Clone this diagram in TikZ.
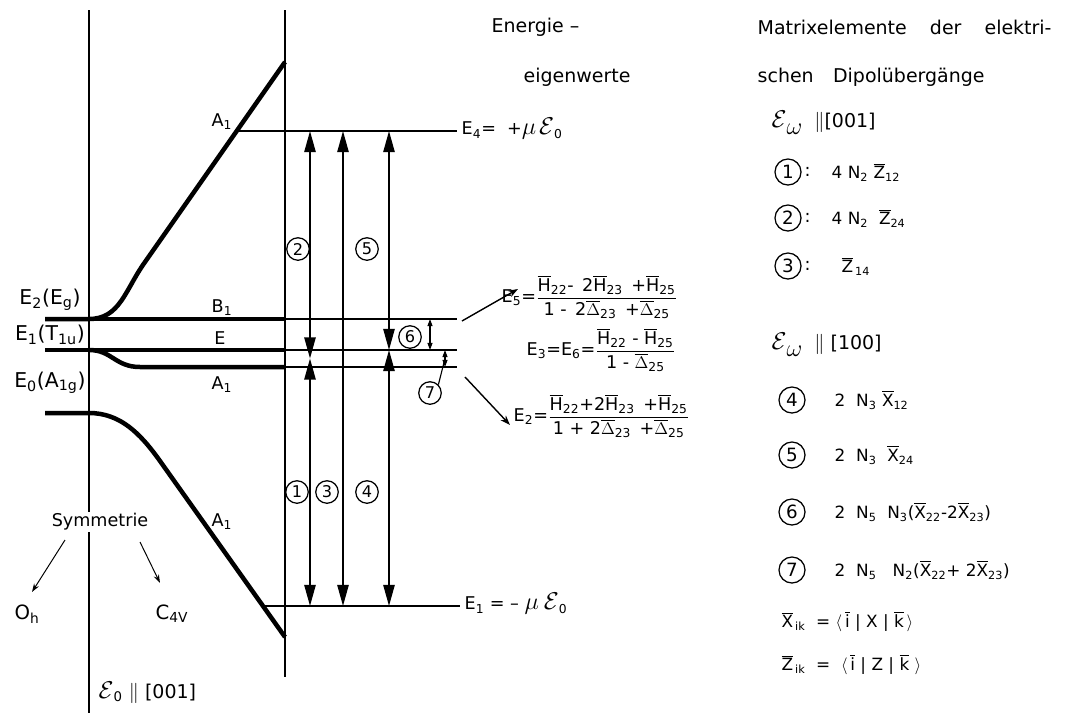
\documentclass[tikz,border=0pt]{standalone}
\usepackage{amsmath}
\usepackage{fontspec}
\setmainfont{DejaVu Sans}
\usetikzlibrary{arrows.meta, positioning, calc}

% barred letter with a subscript, in text mode
\newcommand{\barsub}[2]{$\overline{\mbox{#1}}$\textsubscript{#2}}
% large script field symbol
\newcommand{\fieldE}{{\fontsize{17}{18}\selectfont$\mathcal{E}$}}
\newcommand{\omsub}{\raisebox{-5pt}{\fontsize{19}{20}\selectfont$\omega$}}
\newcommand{\bigmu}{{\fontsize{16}{17}\selectfont$\mu$}}

\begin{document}
\begin{tikzpicture}[
  x=0.025cm, y=-0.025cm,
  every node/.style={font=\fontsize{12.5}{15}\selectfont, inner sep=1pt},
  axis/.style={line width=1.1pt},
  level/.style={line width=3.2pt},
  levline/.style={line width=1.1pt},
  trans/.style={line width=1.3pt, {Triangle[length=15pt,width=8pt]}-{Triangle[length=15pt,width=8pt]}},
  gap/.style={line width=0.8pt, {Triangle[length=5pt,width=3.5pt]}-{Triangle[length=5pt,width=3.5pt]}},
  num/.style={circle, draw, line width=0.9pt, minimum size=16pt, inner sep=0pt, font=\fontsize{11.5}{12}\selectfont},
  bignum/.style={num, minimum size=18.5pt, font=\fontsize{13}{14}\selectfont},
  frm/.style={anchor=west, font=\fontsize{12.5}{14}\selectfont},
  item/.style={anchor=west, font=\fontsize{12}{14}\selectfont},
  head/.style={anchor=west, font=\fontsize{13.5}{16}\selectfont},
  pointer/.style={-{Stealth[length=7pt,width=5pt]}, line width=1pt},
  arrow/.style={-{Stealth[length=6pt,width=4pt]}, line width=0.7pt},
]
  \useasboundingbox (0,0) rectangle (1088,713);

  % axes
  \coordinate (lt) at (89,10);
  \coordinate (lb) at (89,713);
  \coordinate (rt) at (285,10);
  \coordinate (rb) at (285,677);
  \draw[axis] (lt) -- (lb);
  \draw[axis] (rt) -- (rb);

  % energy levels
  \draw[level] (45,319) -- (89,319) .. controls (120,319) and (125,290) .. (145,262) -- (285,62);
  \draw[level] (89,319) -- (285,319);
  \draw[level] (45,350) -- (285,350);
  \draw[level] (89,350) .. controls (112,350) and (115,367) .. (140,367) -- (285,367);
  \draw[level] (45,413) -- (89,413) .. controls (120,413) and (140,433) .. (160,461) -- (285,637);

  \coordinate (L4a) at (237,131);  \coordinate (L4) at (457,131);
  \coordinate (LBa) at (285,319);  \coordinate (LB) at (457,319);
  \coordinate (LEa) at (285,350);  \coordinate (LE) at (457,350);
  \coordinate (LAa) at (285,367);  \coordinate (LA) at (457,367);
  \coordinate (L1a) at (263,606);  \coordinate (L1) at (460,606);
  \draw[levline] (L4a) -- (L4);
  \draw[levline] (LBa) -- (LB);
  \draw[levline] (LEa) -- (LE);
  \draw[levline] (LAa) -- (LA);
  \draw[levline] (L1a) -- (L1);

  % transitions
  \coordinate (c1) at (310,0);
  \coordinate (c3) at (343,0);
  \coordinate (c4) at (389,0);
  \coordinate (c6) at (430,0);
  \coordinate (c7) at (445,0);
  \coordinate (m1) at ($(c1 |- LE)!0.5!(c1 |- LA)$);
  \draw[trans] (c1 |- L4) -- (m1);
  \draw[trans] (m1) -- (c1 |- L1);
  \draw[trans] (c3 |- L4) -- (c3 |- L1);
  \draw[trans] (c4 |- L4) -- (c4 |- LE);
  \draw[trans] (c4 |- LE) -- (c4 |- L1);
  \draw[gap] (c6 |- LB) -- (c6 |- LE);
  \draw[gap] (c7 |- LE) -- (c7 |- LA);
  \coordinate (m7) at ($(c7 |- LE)!0.5!(c7 |- LA)$);

  \node[num] (n2) at (298,249) {2};
  \node[num] (n5) at (367,249) {5};
  \node[num] (n1) at (297,492) {1};
  \node[num] (n3) at (327,492) {3};
  \node[num] (n4) at (367,492) {4};
  \node[num] (n6) at (410,337) {6};
  \node[num] (n7) at (430,393) {7};
  \draw[line width=0.8pt] (n7.north east) -- (m7);

  % level labels
  \node (a1top) at (222,122) {A\textsubscript{1}};
  \node (b1) at (222,308) {B\textsubscript{1}};
  \node (e) at (220,338) {E};
  \node (a1mid) at (222,385) {A\textsubscript{1}};
  \node (a1low) at (222,522) {A\textsubscript{1}};

  \node[font=\fontsize{14.5}{16}\selectfont] (lev2) at (50,300) {E\textsubscript{2}(E\textsubscript{g})};
  \node[font=\fontsize{14.5}{16}\selectfont] (lev1) at (50,335) {E\textsubscript{1}(T\textsubscript{1u})};
  \node[font=\fontsize{14.5}{16}\selectfont] (lev0) at (50,383) {E\textsubscript{0}(A\textsubscript{1g})};

  % symmetry
  \node[fill=white] (sym) at (100,522) {Symmetrie};
  \node[font=\fontsize{14}{16}\selectfont] (oh) at (27,614) {O\textsubscript{h}};
  \node[font=\fontsize{14}{16}\selectfont] (c4v) at (172,614) {C\textsubscript{4V}};
  \coordinate (s1) at (65,540);
  \coordinate (s2) at (32,592);
  \coordinate (s3) at (140,542);
  \coordinate (s4) at (160,583);
  \draw[arrow] (s1) -- (s2);
  \draw[arrow] (s3) -- (s4);
  \node[head] (field) at (97,693) {\fieldE\textsubscript{0} $\parallel$ [001]};

  % eigenvalues
  \node[head] (en1) at (490,27) {Energie --};
  \node[head] (en2) at (522,77) {eigenwerte};
  \node[frm] (f4) at (460,129) {E\textsubscript{4}=\ \ +\bigmu\,\fieldE\textsubscript{0}};
  \node[frm] (f1) at (463,604) {E\textsubscript{1} = -- \bigmu\;\fieldE\textsubscript{0}};
  \node[frm] (f5) at (500,297) {E\textsubscript{5}=$\dfrac{\mbox{\barsub{H}{22}- \,2\barsub{H}{23} \,+\barsub{H}{25}}}{\mbox{1 - \,2\barsub{$\Delta$}{23} \,+\barsub{$\Delta$}{25}}}$};
  \node[frm] (f3) at (525,350) {E\textsubscript{3}=E\textsubscript{6}=$\dfrac{\mbox{\barsub{H}{22} - \barsub{H}{25}}}{\mbox{1 - \barsub{$\Delta$}{25}}}$};
  \node[frm] (f2) at (512,416) {E\textsubscript{2}=$\dfrac{\mbox{\barsub{H}{22}+2\barsub{H}{23} \,+\barsub{H}{25}}}{\mbox{1 + 2\barsub{$\Delta$}{23} \,+\barsub{$\Delta$}{25}}}$};
  \coordinate (p5a) at (462,321);
  \coordinate (p5b) at (518,289);
  \coordinate (p2a) at (465,377);
  \coordinate (p2b) at (510,425);
  \draw[pointer] (p5a) -- (p5b);
  \draw[pointer] (p2a) -- (p2b);

  % matrix elements
  \node[head] (hd1) at (756,27) {Matrixelemente\hspace{0.9em} der\hspace{0.9em} elektri-};
  \node[head] (hd2) at (756,77) {schen\hspace{0.7em} Dipolübergänge};
  \node[head] (pol1) at (770,123) {\fieldE\omsub\ \ $\parallel$[001]};
  \node[bignum] (r1) at (788,172) {1};
  \node[right=1pt of r1] {:};
  \node[item] (t1) at (830,172) {4 N\textsubscript{2} \barsub{Z}{12}};
  \node[bignum] (r2) at (788,218) {2};
  \node[right=1pt of r2] {:};
  \node[item] (t2) at (830,218) {4 N\textsubscript{2} \ \barsub{Z}{24}};
  \node[bignum] (r3) at (788,266) {3};
  \node[right=1pt of r3] {:};
  \node[item] (t3) at (840,266) {\barsub{Z}{\,14}};
  \node[head] (pol2) at (770,345) {\fieldE\omsub\ \ $\parallel$ [100]};
  \node[bignum] (r4) at (792,400) {4};
  \node[item] (t4) at (833,400) {2 \ N\textsubscript{3} \barsub{X}{12}};
  \node[bignum] (r5) at (792,455) {5};
  \node[item] (t5) at (833,455) {2 \ N\textsubscript{3} \ \barsub{X}{24}};
  \node[bignum] (r6) at (792,512) {6};
  \node[item] (t6) at (833,512) {2 \ N\textsubscript{5} \ N\textsubscript{3}(\barsub{X}{22}-2\barsub{X}{23})};
  \node[bignum] (r7) at (792,570) {7};
  \node[item] (t7) at (833,570) {2 \ N\textsubscript{5} \ \ N\textsubscript{2}(\barsub{X}{22}+ 2\barsub{X}{23})};
  \node[item] (dx) at (780,622) {\barsub{X}{\,ik}\ \ = $\langle$\,$\overline{\mbox{i}}$ | X | $\overline{\mbox{k}}$\,$\rangle$};
  \node[item] (dz) at (780,665) {\barsub{Z}{\,ik}\ \ = \ $\langle$\,$\overline{\mbox{i}}$ | Z | $\overline{\mbox{k}}$\ $\rangle$};
\end{tikzpicture}
\end{document}
